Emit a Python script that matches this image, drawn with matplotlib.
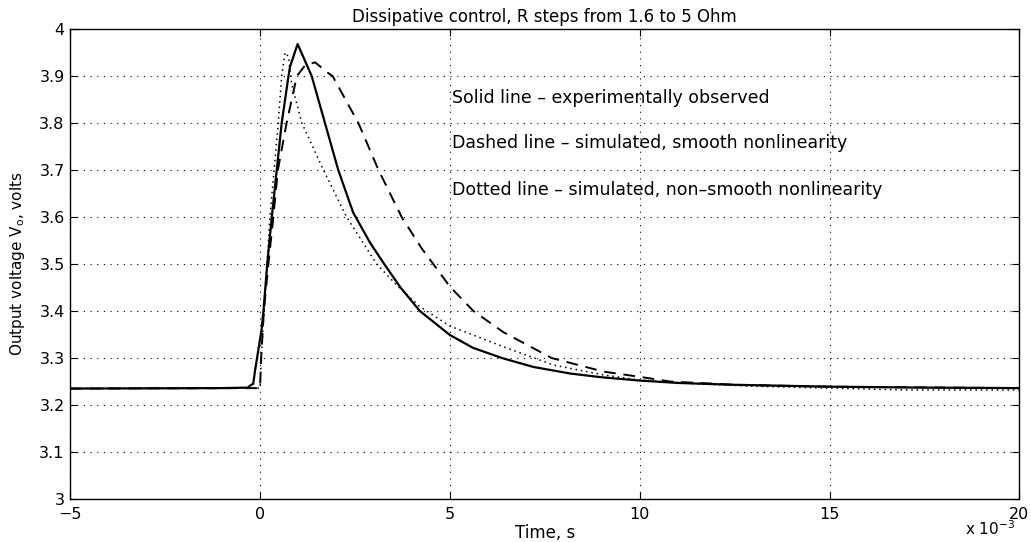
import numpy as np
import matplotlib
matplotlib.use("Agg")
import matplotlib.pyplot as plt

plt.rcParams["font.family"] = ["DejaVu Sans"]

# time in ms (axis is shown as x 10^-3 s), voltage in volts
t_solid = [-5.0, -1.0, -0.32, -0.25, -0.18, -0.13, 0.04, 0.09, 0.19, 0.31, 0.44, 0.57, 0.75, 0.79, 0.99,
           1.36, 1.71, 2.06, 2.45, 2.9, 3.27, 3.7, 4.21, 5.0, 5.6, 6.37, 7.2, 8.17, 9.0, 10.0,
           11.0, 12.5, 15.0, 17.5, 20.0]
v_solid = [3.235, 3.236, 3.237, 3.242, 3.245, 3.274, 3.36, 3.4, 3.5, 3.6, 3.7, 3.8, 3.9, 3.92, 3.968,
           3.9, 3.8, 3.7, 3.61, 3.545, 3.5, 3.45, 3.4, 3.349, 3.322, 3.3, 3.281, 3.267, 3.259, 3.252,
           3.247, 3.243, 3.239, 3.237, 3.236]

t_dashed = [-5.0, 0.0, 0.03, 0.1, 0.22, 0.35, 0.47, 0.7, 0.97, 1.19, 1.45, 1.8, 1.91, 2.59, 3.12,
            3.73, 4.26, 5.0, 5.62, 6.41, 7.68, 9.05, 10.0, 10.8, 12.5, 15.0, 20.0]
v_dashed = [3.235, 3.236, 3.3, 3.4, 3.5, 3.6, 3.7, 3.8, 3.9, 3.923, 3.929, 3.906, 3.9, 3.8, 3.7,
            3.6, 3.533, 3.452, 3.4, 3.355, 3.3, 3.271, 3.26, 3.25, 3.243, 3.239, 3.236]

t_dotted = [-5.0, 0.0, 0.03, 0.12, 0.26, 0.37, 0.48, 0.57, 0.66, 0.75, 0.83, 1.1, 1.67, 2.28, 3.07,
            3.6, 4.2, 5.0, 6.41, 7.73, 9.05, 10.0, 11.5, 13.0, 15.0, 17.0, 20.0]
v_dotted = [3.235, 3.236, 3.3, 3.42, 3.6, 3.7, 3.8, 3.9, 3.95, 3.941, 3.884, 3.8, 3.7, 3.6, 3.5,
            3.455, 3.41, 3.368, 3.324, 3.285, 3.264, 3.253, 3.245, 3.24, 3.236, 3.232, 3.232]

notes = ["Solid line \u2013 experimentally observed",
         "Dashed line \u2013 simulated, smooth nonlinearity",
         "Dotted line \u2013 simulated, non\u2013smooth nonlinearity"]
note_y = [3.853, 3.757, 3.657]

fig = plt.figure(figsize=(10.31, 5.42), dpi=100)
ax = fig.add_axes([0.0681, 0.0793, 0.9206, 0.8672])

ax.plot(t_solid, v_solid, color="black", lw=1.6, ls="-")
ax.plot(t_dashed, v_dashed, color="black", lw=1.4, ls=(0, (6, 4)))
ax.plot(t_dotted, v_dotted, color="black", lw=1.1, ls=(0, (1, 2.5)))

ax.set_xlim(-5, 20)
ax.set_ylim(3, 4)
ax.set_xticks([-5, 0, 5, 10, 15, 20])
ax.set_yticks(np.arange(3.0, 4.01, 0.1))
ax.set_yticklabels(["3", "3.1", "3.2", "3.3", "3.4", "3.5", "3.6", "3.7", "3.8", "3.9", "4"])
ax.grid(True, color="black", ls=(0, (1, 5)), lw=0.8)
ax.tick_params(direction="in", length=5, top=True, right=True, labelsize=11.5)
ax.tick_params(axis="x", pad=6)
ax.tick_params(axis="y", pad=4)
for s in ax.spines.values():
    s.set_linewidth(1.0)

for txt, y in zip(notes, note_y):
    ax.text(5.05, y, txt, fontsize=12.5, va="center", ha="left")

ax.set_title("Dissipative control, R steps from 1.6 to 5 Ohm", fontsize=12, pad=5)
ax.set_xlabel("Time, s", fontsize=12, labelpad=1)
ax.set_ylabel("Output voltage V$_\\mathrm{o}$, volts", fontsize=11)
ax.yaxis.set_label_coords(-0.045, 0.5)
fig.text(0.936, 0.012, "x 10$^{-3}$", fontsize=11, ha="left", va="baseline")

fig.savefig("out.png", dpi=100)
